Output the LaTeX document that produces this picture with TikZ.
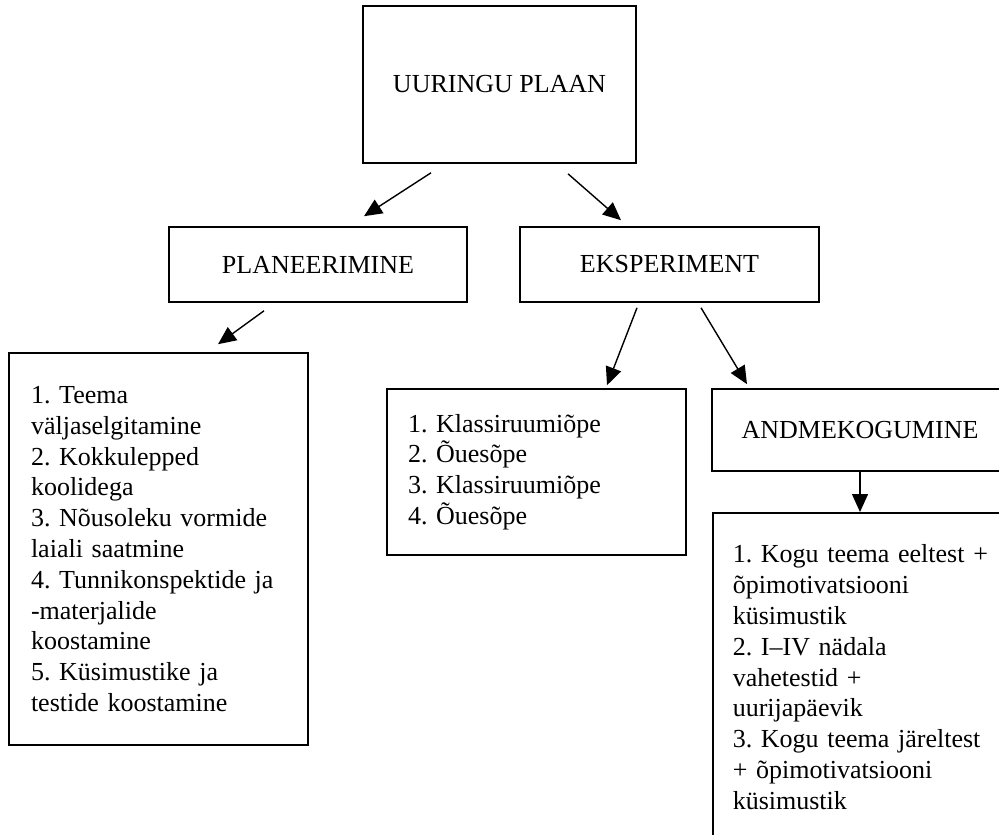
\documentclass[tikz,border=0pt]{standalone}
\usepackage{fontspec}
\setmainfont{Liberation Serif}
\frenchspacing
\usetikzlibrary{arrows.meta}

\tikzset{
    box/.style={draw, line width=0.8pt, inner sep=0pt, font=\fontsize{13}{15.4}\selectfont},
    listbox/.style={box, align=left, inner xsep=11pt},
}

\begin{document}
\begin{tikzpicture}[x=0.5pt, y=-0.5pt, line width=0.7pt, >={Triangle[length=9pt, width=8pt]}]
        \useasboundingbox (0, 0) rectangle (999, 834);
        \clip (0, 0) rectangle (999, 834);
        % \draw[draw=black!20, step=50] (0, 0) grid (999, 834);

        \node[box, minimum width=136.5pt, minimum height=78.5pt] (study-plan) at (499.5, 84.5) {UURINGU PLAAN};

        \node[box, minimum width=149pt, minimum height=37.5pt] (planning) at (318, 264.5) {PLANEERIMINE};
        \node[box, minimum width=149.5pt, minimum height=37.5pt] (experiment) at (669.5, 264.5) {EKSPERIMENT};

        \node[listbox, text width=127.5pt, minimum height=196pt] (planning-steps) at (158.5, 549) {
            1. Teema\\
            väljaselgitamine\\
            2. Kokkulepped\\
            koolidega\\
            3. Nõusoleku vormide\\
            laiali saatmine\\
            4. Tunnikonspektide ja\\
            -materjalide\\
            koostamine\\
            5. Küsimustike ja\\
            testide koostamine
        };

        \node[listbox, inner xsep=10.5pt, text width=128.5pt, minimum height=83pt] (lessons) at (536.5, 472) {
            1. Klassiruumiõpe\\
            2. Õuesõpe\\
            3. Klassiruumiõpe\\
            4. Õuesõpe
        };

        \node[box, minimum width=148pt, minimum height=41pt] (data-collection) at (860, 430) {ANDMEKOGUMINE};

        \node[listbox, anchor=north west, inner xsep=10pt, inner ysep=16pt, text width=128pt] (data-list) at (712, 512) {
            1. Kogu teema eeltest +\\
            õpimotivatsiooni\\
            küsimustik\\
            2. I–IV nädala\\
            vahetestid +\\
            uurijapäevik\\
            3. Kogu teema järeltest\\
            + õpimotivatsiooni\\
            küsimustik
        };

        \draw[->] ([shift={(-68.5, 9)}]study-plan.south) -- ([shift={(46, -10)}]planning.north);
        \draw[->] ([shift={(68.5, 10)}]study-plan.south) -- ([shift={(-48.5, -6)}]experiment.north);
        \draw[->] ([shift={(-54, 8)}]planning.south) -- ([shift={(59.5, -8)}]planning-steps.north);
        \draw[->] ([shift={(-32.5, 5)}]experiment.south) -- ([shift={(70.5, -3)}]lessons.north);
        \draw[->] ([shift={(31.5, 5)}]experiment.south) -- ([shift={(-113, -4)}]data-collection.north);
        \draw[->] (data-collection.south) -- (data-collection.south |- data-list.north);

    \end{tikzpicture}
\end{document}
